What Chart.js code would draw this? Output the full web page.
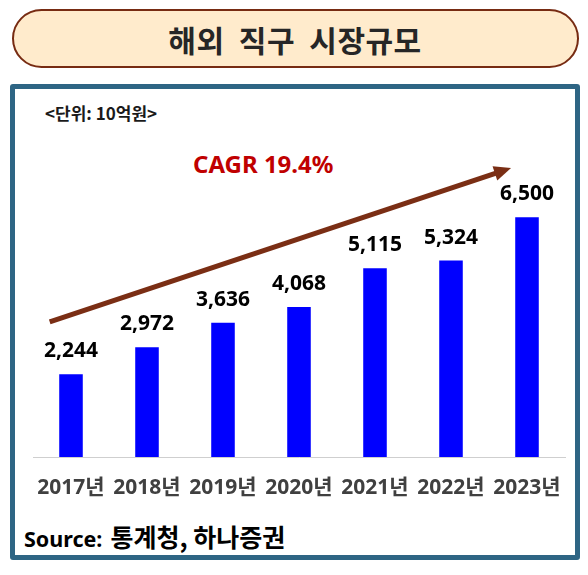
<!DOCTYPE html>
<html>
<head>
<meta charset="utf-8">
<script src="https://cdn.jsdelivr.net/npm/chart.js@4.4.1/dist/chart.umd.min.js"></script>
<style>
  html, body { margin:0; padding:0; background:#fff; width:588px; height:575px; overflow:hidden; }
  .pill { position:absolute; left:11.5px; top:9px; width:567px; height:59px; box-sizing:border-box;
          border:2.7px solid #772B12; border-radius:30px; background:#FFEBCC;
          display:flex; align-items:center; justify-content:center;
          font-family:'Noto Sans CJK KR', sans-serif; font-weight:bold; font-size:30px; color:#262626; word-spacing:7px; letter-spacing:0.5px; }
  .box { position:absolute; left:10px; top:84px; width:570px; height:476px; box-sizing:border-box;
         border:5px solid #2E6584; border-radius:3px; }
  .t { position:absolute; white-space:nowrap; font-weight:bold; }
  .unit { left:45px; top:101px; height:24px; line-height:24px; font-family:'Noto Sans CJK KR', sans-serif; font-size:17px; color:#1a1a1a; }
  .cagr { left:193px; top:150px; height:28px; line-height:28px; font-family:'Noto Sans', sans-serif; font-size:24px; color:#C00000; }
  .src { left:24px; top:521px; height:30px; line-height:30px; font-family:'Noto Sans', 'Noto Sans CJK KR', sans-serif; font-size:21.5px; color:#000; }
  .src .k { font-family:'Noto Sans CJK KR', sans-serif; font-size:25px; margin-left:8px; }
  canvas { position:absolute; left:0; top:0; }
</style>
</head>
<body>
<div class="pill">해외 직구 시장규모</div>
<div class="box"></div>
<div class="t unit">&lt;단위: 10억원&gt;</div>
<div class="t cagr">CAGR 19.4%</div>
<div class="t src">Source:<span class="k">통계청, 하나증권</span></div>
<canvas id="c" width="588" height="575"></canvas>
<script>
const categories = ['2017년','2018년','2019년','2020년','2021년','2022년','2023년'];
const marketSize = [2244, 2972, 3636, 4068, 5115, 5324, 6500];
// trend arrow endpoints in data space: [category index, value]
const arrowStart = [-0.28, 3660];
const arrowEnd = [5.79, 7830];

const valueLabels = {
  id: 'valueLabels',
  afterDatasetsDraw(chart) {
    const ctx = chart.ctx;
    const meta = chart.getDatasetMeta(0);
    ctx.save();
    ctx.font = "bold 21px 'Noto Sans', sans-serif";
    ctx.fillStyle = '#000';
    ctx.textAlign = 'center';
    ctx.textBaseline = 'middle';
    meta.data.forEach((bar, i) => {
      ctx.fillText(marketSize[i].toLocaleString('en-US'), bar.x, bar.y - 23);
    });
    ctx.restore();
  }
};

const trendArrow = {
  id: 'trendArrow',
  afterDatasetsDraw(chart) {
    const ctx = chart.ctx;
    const xs = chart.scales.x, ys = chart.scales.y;
    const x1 = xs.getPixelForValue(arrowStart[0]), y1 = ys.getPixelForValue(arrowStart[1]);
    const x2 = xs.getPixelForValue(arrowEnd[0]), y2 = ys.getPixelForValue(arrowEnd[1]);
    const ang = Math.atan2(y2 - y1, x2 - x1);
    const hl = 17, hw = 7.5;
    const bx = x2 - hl * Math.cos(ang), by = y2 - hl * Math.sin(ang);
    ctx.save();
    ctx.strokeStyle = '#7A2E14';
    ctx.fillStyle = '#7A2E14';
    ctx.lineWidth = 5;
    ctx.beginPath();
    ctx.moveTo(x1, y1);
    ctx.lineTo(bx + 2 * Math.cos(ang), by + 2 * Math.sin(ang));
    ctx.stroke();
    ctx.beginPath();
    ctx.moveTo(x2, y2);
    ctx.lineTo(bx + hw * Math.sin(ang), by - hw * Math.cos(ang));
    ctx.lineTo(bx - hw * Math.sin(ang), by + hw * Math.cos(ang));
    ctx.closePath();
    ctx.fill();
    ctx.restore();
  }
};

new Chart(document.getElementById('c'), {
  type: 'bar',
  data: {
    labels: categories,
    datasets: [{
      data: marketSize,
      backgroundColor: '#0000FF',
      borderWidth: 0,
      categoryPercentage: 1,
      barPercentage: 0.31
    }]
  },
  options: {
    responsive: false,
    animation: false,
    layout: { padding: { left: 33, right: 23, top: 88, bottom: 0 } },
    plugins: { legend: { display: false }, tooltip: { enabled: false } },
    scales: {
      x: {
        grid: { display: false, drawTicks: false },
        border: { display: true, color: '#CFCFCF', width: 1 },
        ticks: {
          color: '#404040',
          font: { family: "'Noto Sans', 'Noto Sans CJK KR', sans-serif", size: 21, weight: 'bold' },
          padding: 18,
          maxRotation: 0,
          autoSkip: false
        },
        afterFit(scale) { scale.height = 118; }
      },
      y: { display: false, min: 0, max: 10000 }
    }
  },
  plugins: [trendArrow, valueLabels]
});
</script>
</body>
</html>
